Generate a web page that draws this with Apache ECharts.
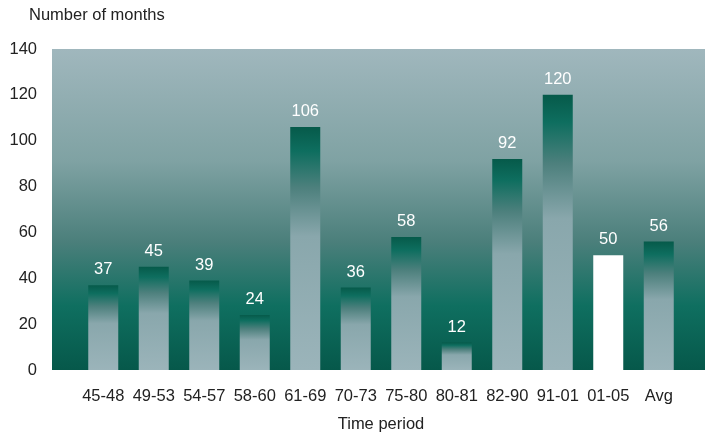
<!DOCTYPE html>
<html>
<head>
<meta charset="utf-8">
<script src="https://cdn.jsdelivr.net/npm/echarts@6/dist/echarts.min.js"></script>
<style>html,body{margin:0;padding:0;background:#fff}#c{width:705px;height:433px}</style>
</head>
<body>
<div id="c"></div>
<script>
const categories = ['45-48','49-53','54-57','58-60','61-69','70-73','75-80','80-81','82-90','91-01','01-05','Avg'];
const months = [37,45,39,24,106,36,58,12,92,120,50,56];
const highlightCategory = '01-05';
const yTicks = [0,20,40,60,80,100,120,140];

const chart = echarts.init(document.getElementById('c'));
const barGrad = new echarts.graphic.LinearGradient(0,0,0,1,[
  {offset:0, color:'#065a4a'},
  {offset:0.1, color:'#0e6e5f'},
  {offset:0.25, color:'#4d807d'},
  {offset:0.45, color:'#89a7ac'},
  {offset:1, color:'#9bb4ba'}
]);
const bgGrad = new echarts.graphic.LinearGradient(0,0,0,1,[
  {offset:0, color:'#a0b7bd'},
  {offset:0.35, color:'#7fa2a3'},
  {offset:0.6, color:'#4b7f7b'},
  {offset:0.8, color:'#0f6f60'},
  {offset:1, color:'#06584a'}
]);
const font = 'Liberation Sans, Arial, sans-serif';
const fs = 16.5;
chart.setOption({
  animation:false,
  title:{text:'Number of months', left:29, top:7, padding:0,
    textStyle:{color:'#222', fontSize:fs, fontWeight:'normal', fontFamily:font}},
  graphic:[{type:'rect', z:-10, shape:{x:52,y:49,width:653,height:321}, style:{fill:bgGrad}, silent:true}],
  grid:{left:78, right:21, top:49, bottom:63, outerBoundsMode:'none', containLabel:false},
  xAxis:{type:'category', data:categories,
    axisLine:{show:false}, axisTick:{show:false},
    axisLabel:{color:'#222', fontSize:fs, fontFamily:font, margin:18, interval:0},
    name:'Time period', nameLocation:'middle', nameGap:46,
    nameTextStyle:{color:'#222', fontSize:fs, fontFamily:font}
  },
  yAxis:{type:'value', min:0, max:140, interval:20,
    axisLine:{show:false}, axisTick:{show:false}, splitLine:{show:false},
    axisLabel:{color:'#222', fontSize:fs, fontFamily:font, margin:41,
      formatter:v=>yTicks.includes(v)?String(v):''}
  },
  series:[{type:'bar', barWidth:30,
    data:months.map((v,i)=>({value:v, itemStyle:{color: categories[i]===highlightCategory ? '#ffffff' : barGrad}})),
    label:{show:true, position:'top', distance:7, color:'#fff', fontSize:fs, fontFamily:font}
  }]
});
</script>
</body>
</html>
